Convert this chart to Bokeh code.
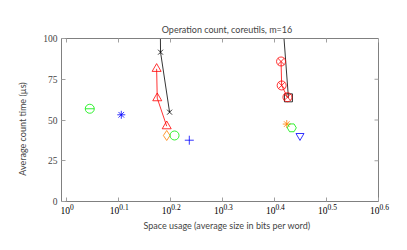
import math
from bokeh.plotting import figure
from bokeh.models import (Range1d, FixedTicker, LogAxis, CustomJSTickFormatter,
                          ColumnDataSource)
from bokeh.core.properties import value
from bokeh.embed import file_html
from bokeh.resources import INLINE

# ---- data ----
title_text = "Operation count, coreutils, m=16"
x_exponents = ["0", "0.1", "0.2", "0.3", "0.4", "0.5", "0.6"]
y_ticks = [0, 25, 50, 75, 100]

blackx_x = [1.515, 1.518, 1.580]
blackx_y = [120, 91.6, 54.8]
tri_x = [1.492, 1.496, 1.560]
tri_y = [81.4, 63.4, 46.2]
otimes_x = [2.587, 2.594, 2.661]
otimes_y = [85.9, 71.2, 64.0]
blacksq_x = [2.593, 2.673]
blacksq_y = [120, 63.6]
diamond_x = [1.560]; diamond_y = [40.5]
circle_x = [1.615]; circle_y = [40.5]
plus_x = [1.724]; plus_y = [37.6]
ominus_x = [1.110]; ominus_y = [56.9]
bast_x = [1.276]; bast_y = [53.2]
oast_x = [2.653]; oast_y = [47.5]
pent_x = [2.713]; pent_y = [45.2]
invtri_x = [2.813]; invtri_y = [40.3]

RED = "#ff0000"; GREEN = "#00ee00"; BLUE = "#0000ff"; ORANGE = "#ff8000"; BLACK = "#000000"
SANS = "Lato"; SERIF = "Liberation Serif"
FRAME = "#808080"; TICK = "#a0a0a0"

xt = [10 ** float(e) for e in x_exponents]

# visible axis box: 317x163 px. The frame is a bit larger (to the right and
# below) so that the x tick labels, drawn as text glyphs, are not clipped.
PLOT_W, PLOT_H = 317, 163
PAD_R, STRIP = 14, 18
DEC_PER_PX = 0.609 / PLOT_W
XMIN_VIS, XMAX_VIS = 10 ** -0.009, 10 ** 0.6
x_hi = XMAX_VIS * 10 ** (PAD_R * DEC_PER_PX)
y_lo = -100.0 * STRIP / PLOT_H
FW = PLOT_W + PAD_R
LEFT = 61

p = figure(width=407, height=250, frame_width=FW, frame_height=PLOT_H + STRIP,
           x_axis_type="log",
           x_range=Range1d(XMIN_VIS, x_hi), y_range=Range1d(y_lo, 100),
           output_backend="svg", toolbar_location=None,
           min_border_left=LEFT, min_border_right=407 - LEFT - FW,
           min_border_top=38, min_border_bottom=31)
p.title.text = title_text
p.title.align = "center"
p.title.offset = (LEFT + PLOT_W / 2) - (LEFT + FW / 2)
p.title.standoff = 7
p.title.text_font = SANS
p.title.text_font_size = "9px"
p.title.text_font_style = "normal"
p.grid.visible = False
p.outline_line_color = None
p.background_fill_color = "white"

empty = CustomJSTickFormatter(code="return ''")

# main bottom axis: only carries the axis label
xa = p.xaxis[0]
xa.ticker = FixedTicker(ticks=[])
xa.bounds = (XMIN_VIS, XMAX_VIS)
xa.formatter = empty
xa.axis_line_color = None
xa.major_tick_line_color = None
xa.minor_tick_line_color = None
xa.major_label_standoff = 0
xa.axis_label = "Space usage (average size in bits per word)"
xa.axis_label_text_font = SANS
xa.axis_label_text_font_size = "9px"
xa.axis_label_text_font_style = "normal"
xa.axis_label_standoff = 0

ya = p.yaxis[0]
ya.ticker = FixedTicker(ticks=y_ticks)
ya.bounds = (0, 100)
ya.major_label_text_font = SERIF
ya.major_label_text_font_size = "9.5px"
ya.major_label_standoff = 4
ya.axis_label = "Average count time (µs)"
ya.axis_label_text_font = SANS
ya.axis_label_text_font_size = "9px"
ya.axis_label_text_font_style = "normal"
ya.axis_label_standoff = 12

bottom = LogAxis(ticker=FixedTicker(ticks=xt), formatter=empty, major_label_standoff=0,
                 fixed_location=0, bounds=(XMIN_VIS, XMAX_VIS))
top = LogAxis(ticker=FixedTicker(ticks=xt), formatter=empty, major_label_standoff=0,
              bounds=(XMIN_VIS, XMAX_VIS))
p.add_layout(bottom, "below")
p.add_layout(top, "above")

for ax in [ya, bottom, top]:
    ax.axis_line_color = FRAME
    ax.major_tick_line_color = TICK
    ax.major_tick_in = 4
    ax.major_tick_out = 0
    ax.minor_tick_line_color = None

# right edge of the box with inward ticks
p.segment(x0=[XMAX_VIS], y0=[y_ticks[0]], x1=[XMAX_VIS], y1=[y_ticks[-1]],
          line_color=FRAME, line_width=1)
p.ray(x=[XMAX_VIS] * len(y_ticks[1:-1]), y=y_ticks[1:-1], length=4, length_units="screen",
      angle=math.pi, line_color=TICK, line_width=1)

# x tick labels 10^e drawn as text through the x scale
BASE_FS = 9.5
EXP_FS = 7.5
wb = 2 * 0.5 * BASE_FS
we = [sum(0.25 if c == "." else 0.5 for c in e) * EXP_FS for e in x_exponents]
src = ColumnDataSource(dict(
    x=xt, y=[0] * len(xt), base=["10"] * len(xt), exp=x_exponents,
    bx=[-(wb + w) / 2 + 1 for w in we], ex=[-(wb + w) / 2 + wb + 1 for w in we],
))
p.text(x="x", y="y", text="base", x_offset="bx", y_offset=9, source=src,
       text_align="left", text_baseline="middle", text_font=value(SERIF),
       text_font_size=value(f"{BASE_FS}px"), text_color="black")
p.text(x="x", y="y", text="exp", x_offset="ex", y_offset=5, source=src,
       text_align="left", text_baseline="middle", text_font=value(SERIF),
       text_font_size=value(f"{EXP_FS}px"), text_color="black")

# series
p.line(blackx_x, blackx_y, line_color=BLACK, line_width=0.8)
p.scatter(blackx_x, blackx_y, marker="x", size=7, line_color=BLACK, line_width=0.8)
p.line(blacksq_x, blacksq_y, line_color=BLACK, line_width=0.8)
p.scatter(blacksq_x, blacksq_y, marker="square", size=8, line_color=BLACK, fill_color=None, line_width=0.8)

p.line(tri_x, tri_y, line_color=RED, line_width=0.8)
p.scatter(tri_x, tri_y, marker="triangle", size=9, line_color=RED, fill_color=None, line_width=0.8)
p.line(otimes_x, otimes_y, line_color=RED, line_width=0.8)
p.scatter(otimes_x, otimes_y, marker="circle_x", size=9, line_color=RED, fill_color=None, line_width=0.8)

p.scatter(diamond_x, diamond_y, marker="diamond", size=10, line_color=ORANGE, fill_color=None, line_width=0.8)
p.scatter(circle_x, circle_y, marker="circle", size=9, line_color=GREEN, fill_color=None, line_width=0.8)
p.scatter(plus_x, plus_y, marker="cross", size=9, line_color=BLUE, line_width=0.8)
p.scatter(ominus_x, ominus_y, marker="circle", size=9, line_color=GREEN, fill_color=None, line_width=0.8)
p.scatter(ominus_x, ominus_y, marker="dash", size=9, line_color=GREEN, line_width=0.8)
p.scatter(bast_x, bast_y, marker="asterisk", size=8, line_color=BLUE, line_width=0.8)
p.scatter(oast_x, oast_y, marker="asterisk", size=8, line_color=ORANGE, line_width=0.8)
p.scatter(pent_x, pent_y, marker="hex", size=9, line_color=GREEN, fill_color=None, line_width=0.8)
p.scatter(invtri_x, invtri_y, marker="inverted_triangle", size=8, line_color=BLUE, fill_color=None, line_width=0.8)

open("out.html", "w").write(file_html(p, INLINE))
